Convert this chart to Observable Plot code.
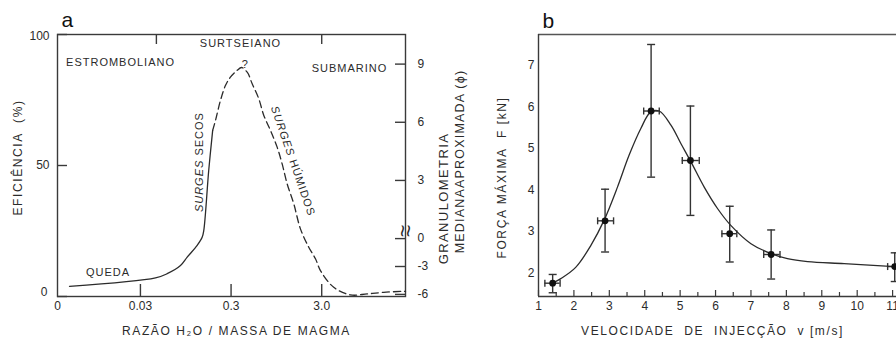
<!DOCTYPE html>
<html>
<head>
<meta charset="utf-8">
<script src="https://cdn.jsdelivr.net/npm/d3@7"></script>
<script src="https://cdn.jsdelivr.net/npm/@observablehq/plot@0.6"></script>
<style>
  body { margin: 0; background: #fff; overflow: hidden; }
  #wrap { display: flex; width: 896px; height: 345px; overflow: hidden; }
  #wrap svg { display: block; flex: none; max-width: none; overflow: hidden; }
  #wrap svg text { font-family: "Liberation Sans", Arial, sans-serif; white-space: pre; }
</style>
</head>
<body>
<div id="wrap"></div>
<script>
// ---------- Panel a: efficiency vs water/magma mass ratio ----------
const ratioMin = 0.00365, ratioMax = 25.2;
const ratioTickValues = [ratioMin, 0.03, 0.3, 3.0];
const ratioTickLabels = ["0", "0.03", "0.3", "3.0"];
const regimeBounds = [0.045, 3.0];
const effTicks = [0, 50, 100];

// efficiency curve, solid (dry surges) and dashed (uncertain / wet surges)
const solidRatio = [0.00495, 0.0440, 0.0592, 0.0830, 0.0984, 0.1268, 0.1439, 0.150, 0.170, 0.188];
const solidEff   = [3.9, 7.1, 8.7, 11.8, 15.0, 19.5, 22.6, 25.2, 48.1, 63.4];
const dashRatio  = [0.188, 0.202, 0.229, 0.260, 0.295, 0.350, 0.391, 0.452, 0.513, 0.606, 0.689, 0.816,
                    0.967, 1.098, 1.247, 1.475, 1.748, 2.158, 2.559, 2.904, 4.07, 6.22, 9.51, 14.5, 25.2];
const dashEff    = [63.4, 67.2, 74.8, 80.5, 83.7, 86.3, 87.4, 85.6, 81.2, 75.5, 69.1, 63.4,
                    57.0, 50.6, 43.0, 35.4, 25.8, 18.8, 14.4, 9.9, 3.5, 0.6, 1.0, 1.6, 2.0];

// secondary axis: median grain size (phi), calibrated against efficiency units
const phiTicks = [9, 6, 3, 0, -3, -6];
const phiToEff = d3.scaleLinear().domain([-6, 0, 9]).range([0.8, 22.1, 88.7]);
const phiBreak = 0.4;

// regime and deposit annotations
const regimeNames = ["ESTROMBOLIANO", "SURTSEIANO", "SUBMARINO", "QUEDA", "?"];
const regimeRatio = [0.0181, 0.381, 6.07, 0.01315, 0.425];
const regimeEff   = [89.4, 96.5, 87.1, 9.3, 88.4];
const surgeNames  = ["SURGES SECOS", "SURGES HÚMIDOS"];
const surgeRatio  = [0.1343, 1.445];
const surgeEff    = [51.3, 51.7];
const surgeAngle  = [-90, 71];

const ink = "#2b2b2b", axisInk = "#3a3a3a";
const solid = solidRatio.map((r, i) => ({r, e: solidEff[i]}));
const dashed = dashRatio.map((r, i) => ({r, e: dashEff[i]}));
const idx = a => a.map((_, i) => i);

const plotA = Plot.plot({
  width: 475, height: 345,
  marginLeft: 57, marginRight: 70, marginTop: 34, marginBottom: 49,
  x: {type: "log", domain: [ratioMin, ratioMax], axis: null},
  y: {domain: [0, 100], axis: null},
  style: {background: "white", color: ink, fontSize: "12px"},
  marks: [
    Plot.frame({stroke: axisInk, strokeWidth: 1.4}),
    // inward ticks
    Plot.tickX(ratioTickValues.slice(1), {x: d => d, insetTop: 250, stroke: axisInk, strokeWidth: 1.4}),
    Plot.tickX(regimeBounds, {x: d => d, insetBottom: 252, stroke: axisInk, strokeWidth: 1.4}),
    Plot.tickY(effTicks, {y: d => d, insetRight: 338, stroke: axisInk, strokeWidth: 1.4}),
    Plot.tickY(phiTicks, {y: d => phiToEff(d), insetLeft: 338, stroke: axisInk, strokeWidth: 1.4}),
    // tick labels
    Plot.text(idx(ratioTickValues), {x: i => ratioTickValues[i], text: i => ratioTickLabels[i],
      frameAnchor: "bottom", dy: 13, textAnchor: "middle", fontSize: 12, fill: ink}),
    Plot.text([50], {y: d => d, text: d => String(d), frameAnchor: "left", dx: -8, textAnchor: "end", fontSize: 12, fill: ink}),
    Plot.text([100], {y: d => d, text: d => String(d), frameAnchor: "left", dx: -8, textAnchor: "end", lineAnchor: "top", dy: -3, fontSize: 12, fill: ink}),
    Plot.text([0], {y: d => d, text: d => String(d), frameAnchor: "left", dx: -10, textAnchor: "end", lineAnchor: "bottom", dy: -1, fontSize: 12, fill: ink}),
    Plot.text(phiTicks, {y: d => phiToEff(d), text: d => String(d), frameAnchor: "right", dx: 12, textAnchor: "start", fontSize: 12, fill: ink}),
    // axis break on the grain-size axis: two vertical squiggles
    Plot.text([phiBreak], {y: d => phiToEff(d), text: () => "~", frameAnchor: "right", dx: -3, rotate: 90,
      textAnchor: "middle", fontSize: 22, fill: ink}),
    Plot.text([phiBreak], {y: d => phiToEff(d), text: () => "~", frameAnchor: "right", dx: 3, rotate: 90,
      textAnchor: "middle", fontSize: 22, fill: ink}),
    // curve
    Plot.line(solid, {x: "r", y: "e", curve: "catmull-rom", stroke: ink, strokeWidth: 1.3}),
    Plot.line(dashed, {x: "r", y: "e", curve: "catmull-rom", stroke: ink, strokeWidth: 1.3, strokeDasharray: "7,4"}),
    // annotations
    Plot.text(idx(regimeNames), {x: i => regimeRatio[i], y: i => regimeEff[i], text: i => regimeNames[i],
      textAnchor: "middle", fontSize: 11, fill: ink}),
    Plot.text(idx(surgeNames), {x: i => surgeRatio[i], y: i => surgeEff[i], text: i => surgeNames[i],
      rotate: i => surgeAngle[i], textAnchor: "middle", fontSize: 11, fill: ink}),
    // panel letter and axis titles
    Plot.text(["a"], {text: d => d, frameAnchor: "top-left", dx: 4, dy: -8, lineAnchor: "bottom", textAnchor: "start", fontSize: 21, fill: "#111"}),
    Plot.text(["RAZÃO H₂O / MASSA DE MAGMA"], {text: d => d, frameAnchor: "bottom", dx: 5, dy: 38, textAnchor: "middle", fontSize: 12, fill: ink}),
    Plot.text(["EFICIÊNCIA  (%)"], {text: d => d, frameAnchor: "left", dx: -39, dy: -8, rotate: -90, textAnchor: "middle", fontSize: 12, fill: ink}),
    Plot.text(["GRANULOMETRIA"], {text: d => d, frameAnchor: "right", dx: 38, dy: 33, rotate: -90, textAnchor: "middle", fontSize: 13, fill: ink}),
    Plot.text(["MEDIANAAPROXIMADA (ϕ)"], {text: d => d, frameAnchor: "right", dx: 54, dy: -4, rotate: -90, textAnchor: "middle", fontSize: 12.5, fill: ink})
  ]
});

// ---------- Panel b: maximum force vs injection velocity ----------
const velTicks = [1, 2, 3, 4, 5, 6, 7, 8, 9, 10, 11];
const velMinor = [1.5, 2.5, 3.5, 4.5, 5.5, 6.5, 7.5, 8.5, 9.5, 10.5];
const forceTicks = [2, 3, 4, 5, 6, 7];

const vel     = [1.40, 2.88, 4.18, 5.29, 6.40, 7.57, 11.06];
const force   = [1.76, 3.26, 5.90, 4.71, 2.95, 2.45, 2.16];
const forceLo = [1.53, 2.51, 4.31, 3.39, 2.27, 1.86, 1.80];
const forceHi = [1.97, 4.02, 7.50, 6.02, 3.61, 3.04, 2.49];
const velLo   = [1.18, 2.67, 3.97, 5.06, 6.18, 7.36, 10.86];
const velHi   = [1.61, 3.12, 4.41, 5.54, 6.60, 7.82, 11.26];

// fitted trend
const fitVel   = [1.44, 1.63, 2.05, 2.48, 2.85, 3.23, 3.56, 3.89, 4.17, 4.41, 4.74, 5.02, 5.31,
                  5.68, 6.06, 6.43, 7.0, 7.57, 8.03, 8.60, 9.63, 11.05, 11.25];
const fitForce = [1.78, 1.87, 2.14, 2.67, 3.27, 4.07, 4.84, 5.48, 5.88, 5.90, 5.56, 5.12, 4.67,
                  4.07, 3.55, 3.15, 2.71, 2.47, 2.35, 2.28, 2.23, 2.16, 2.15];

const pts = vel.map((v, i) => ({v, f: force[i], f0: forceLo[i], f1: forceHi[i], v0: velLo[i], v1: velHi[i]}));
const fit = fitVel.map((v, i) => ({v, f: fitForce[i]}));

const hCap = {draw(ctx, size) { const r = Math.sqrt(size / Math.PI); ctx.moveTo(-r, 0); ctx.lineTo(r, 0); }};
const vCap = {draw(ctx, size) { const r = Math.sqrt(size / Math.PI); ctx.moveTo(0, -r); ctx.lineTo(0, r); }};
const barInk = "#333";

const plotB = Plot.plot({
  width: 421, height: 345,
  marginLeft: 63, marginRight: 0, marginTop: 34, marginBottom: 49,
  x: {domain: [1, 11.11], axis: null},
  y: {domain: [1.44, 7.74], axis: null},
  style: {background: "white", color: ink, fontSize: "12px"},
  marks: [
    Plot.ruleY([7.74], {stroke: "#555", strokeWidth: 1.4}),
    Plot.ruleY([1.44], {stroke: axisInk, strokeWidth: 1.4}),
    Plot.ruleX([1], {stroke: axisInk, strokeWidth: 1.4}),
    Plot.tickX(velTicks, {x: d => d, insetTop: 256, stroke: axisInk, strokeWidth: 1.2}),
    Plot.tickX(velMinor, {x: d => d, insetTop: 258, stroke: axisInk, strokeWidth: 1.2}),
    Plot.text(velTicks, {x: d => d, text: d => String(d), frameAnchor: "bottom", dy: 13, textAnchor: "middle", fontSize: 12, fill: ink}),
    Plot.text(forceTicks, {y: d => d, text: d => String(d), frameAnchor: "left", dx: -4, textAnchor: "end", fontSize: 12, fill: ink}),
    // error bars
    Plot.ruleX(pts, {x: "v", y1: "f0", y2: "f1", stroke: barInk, strokeWidth: 1.4}),
    Plot.ruleY(pts, {y: "f", x1: "v0", x2: "v1", stroke: barInk, strokeWidth: 1.4}),
    Plot.dot(pts, {x: "v", y: "f0", symbol: hCap, r: 4, stroke: barInk, fill: "none", strokeWidth: 1.4}),
    Plot.dot(pts, {x: "v", y: "f1", symbol: hCap, r: 4, stroke: barInk, fill: "none", strokeWidth: 1.4}),
    Plot.dot(pts, {x: "v0", y: "f", symbol: vCap, r: 3.5, stroke: barInk, fill: "none", strokeWidth: 1.4}),
    Plot.dot(pts, {x: "v1", y: "f", symbol: vCap, r: 3.5, stroke: barInk, fill: "none", strokeWidth: 1.4}),
    // trend and measurements
    Plot.line(fit, {x: "v", y: "f", curve: "catmull-rom", stroke: ink, strokeWidth: 1.3}),
    Plot.dot(pts, {x: "v", y: "f", r: 3.4, fill: "#111", stroke: "none"}),
    // panel letter and axis titles
    Plot.text(["b"], {text: d => d, frameAnchor: "top-left", dx: 4, dy: -7, lineAnchor: "bottom", textAnchor: "start", fontSize: 21, fill: "#111"}),
    Plot.text(["FORÇA MÁXIMA  F [kN]"], {text: d => d, frameAnchor: "left", dx: -36, dy: 12, rotate: -90, textAnchor: "middle", fontSize: 12, fill: ink}),
    Plot.text(["VELOCIDADE  DE  INJECÇÃO  v [m/s]"], {text: d => d, frameAnchor: "bottom", dx: -5, dy: 38, textAnchor: "middle", fontSize: 12, fill: ink})
  ]
});

// letter spacing for titles and annotations
const spacing = new Map([
  ["RAZÃO H₂O / MASSA DE MAGMA", 1.6], ["EFICIÊNCIA  (%)", 1.6], ["GRANULOMETRIA", 1.4],
  ["MEDIANAAPROXIMADA (ϕ)", 1.2], ["FORÇA MÁXIMA  F [kN]", 1.6], ["VELOCIDADE  DE  INJECÇÃO  v [m/s]", 1.6],
  ["ESTROMBOLIANO", 1], ["SURTSEIANO", 1], ["SUBMARINO", 1], ["QUEDA", 1],
  ["SURGES SECOS", 1], ["SURGES HÚMIDOS", 1]
]);
for (const svg of [plotA, plotB]) {
  d3.select(svg).selectAll("text").each(function () {
    const t = d3.select(this);
    const s = t.text();
    if (!spacing.has(s)) return;
    t.style("letter-spacing", spacing.get(s) + "px");
    // the borrowed word "SURGES" is set in italics
    if (s.startsWith("SURGES")) {
      const k = s.indexOf(" ");
      t.text(null);
      t.append("tspan").attr("font-style", "italic").text(s.slice(0, k));
      t.append("tspan").text(s.slice(k));
    }
  });
}

document.getElementById("wrap").append(plotA, plotB);
</script>
</body>
</html>
